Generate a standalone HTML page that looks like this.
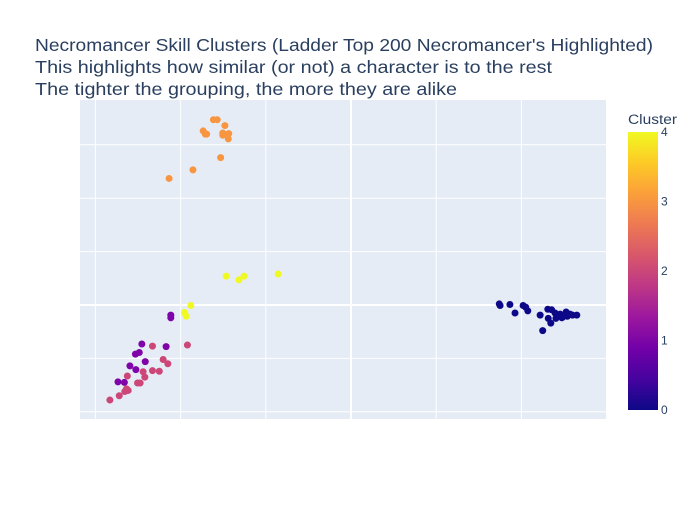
<!DOCTYPE html>
<html><head><meta charset="utf-8"><style>
body{margin:0;background:#fff;font-family:"Liberation Sans","DejaVu Sans",sans-serif}
</style></head><body>
<svg id="c" width="700" height="500" xmlns="http://www.w3.org/2000/svg">
<defs><linearGradient id="pl" x1="0" y1="1" x2="0" y2="0">
<stop offset="0" stop-color="#0d0887"/><stop offset="0.111" stop-color="#46039f"/><stop offset="0.222" stop-color="#7201a8"/><stop offset="0.333" stop-color="#9c179e"/><stop offset="0.444" stop-color="#bd3786"/><stop offset="0.556" stop-color="#d8576b"/><stop offset="0.667" stop-color="#ed7953"/><stop offset="0.778" stop-color="#fb9f3a"/><stop offset="0.889" stop-color="#fdca26"/><stop offset="1" stop-color="#f0f921"/></linearGradient></defs>
<rect x="80" y="100" width="526" height="319" fill="#e5ecf6"/>
<g id="grid"></g><g id="pts"></g>
<g fill="#2a3f5f" font-size="17.5">
<text x="35" y="51" textLength="618" lengthAdjust="spacingAndGlyphs">Necromancer Skill Clusters (Ladder Top 200 Necromancer's Highlighted)</text>
<text x="35" y="73" textLength="517" lengthAdjust="spacingAndGlyphs">This highlights how similar (or not) a character is to the rest</text>
<text x="35" y="95" textLength="422" lengthAdjust="spacingAndGlyphs">The tighter the grouping, the more they are alike</text></g>
<text x="628" y="124" font-size="13.5" fill="#2a3f5f" textLength="49" lengthAdjust="spacingAndGlyphs">Cluster</text>
<rect x="628" y="132" width="30" height="278" fill="url(#pl)"/>
<g id="cb" font-size="12" fill="#2a3f5f"></g>
</svg>
<script>
const clusters=[0,1,2,3,4];
const colors=['#0d0887','#7e03a8','#cc4778','#f89540','#f0f921'];
const xs=[
[3.48,3.50,3.73,3.85,4.04,4.10,4.15,4.44,4.50,4.62,4.69,4.71,4.63,4.79,4.84,4.91,4.98,5.05,5.08,5.14,5.20,5.30,4.81,4.95],
[-4.23,-4.23,-4.91,-4.34,-4.97,-5.06,-4.83,-5.19,-5.05,-5.47,-5.32],
[-4.66,-3.84,-4.41,-4.30,-4.66,-4.50,-4.88,-4.84,-5.25,-5.01,-4.95,-5.27,-5.23,-5.31,-5.44,-5.66],
[-3.23,-3.14,-2.96,-3.47,-3.39,-3.42,-3.01,-3.01,-2.87,-2.88,-3.06,-3.71,-4.27],
[-3.76,-3.91,-3.87,-2.93,-2.63,-2.51,-1.71]];
const ys=[
[0.02,-0.01,0.01,-0.15,-0.01,-0.04,-0.11,-0.19,-0.48,-0.08,-0.34,-0.09,-0.25,-0.15,-0.21,-0.17,-0.22,-0.13,-0.21,-0.17,-0.19,-0.19,-0.25,-0.24],
[-0.19,-0.24,-0.73,-0.78,-0.89,-0.92,-1.06,-1.14,-1.21,-1.44,-1.45],
[-0.77,-0.75,-1.02,-1.10,-1.23,-1.24,-1.25,-1.35,-1.33,-1.46,-1.46,-1.57,-1.60,-1.62,-1.70,-1.78],
[3.47,3.47,3.36,3.26,3.20,3.20,3.22,3.18,3.21,3.11,2.76,2.53,2.37],
[-0.01,-0.14,-0.21,0.54,0.47,0.54,0.58]];
const xTicks=[-6,-4,-2,0,2,4];
const yTicks=[-2,-1,0,1,2,3];
const cbTicks=[0,1,2,3,4];
const X=v=>351+v*42.6, Y=v=>305-v*53.4;
const NS='http://www.w3.org/2000/svg';
const g=document.getElementById('grid'),p=document.getElementById('pts'),cb=document.getElementById('cb');
xTicks.forEach(t=>{const l=document.createElementNS(NS,'line');
l.setAttribute('x1',X(t));l.setAttribute('x2',X(t));l.setAttribute('y1',100);l.setAttribute('y2',419);
l.setAttribute('stroke','#fff');l.setAttribute('stroke-width',t===0?2:1);


g.appendChild(l);});
yTicks.forEach(t=>{const l=document.createElementNS(NS,'line');
l.setAttribute('y1',Y(t));l.setAttribute('y2',Y(t));l.setAttribute('x1',80);l.setAttribute('x2',606);
l.setAttribute('stroke','#fff');l.setAttribute('stroke-width',t===0?2:1);


g.appendChild(l);});
clusters.forEach((c,i)=>{xs[i].forEach((x,j)=>{const e=document.createElementNS(NS,'circle');
e.setAttribute('cx',X(x));e.setAttribute('cy',Y(ys[i][j]));e.setAttribute('r',3.5);e.setAttribute('fill',colors[c]);


p.appendChild(e);});});
cbTicks.forEach(t=>{const e=document.createElementNS(NS,'text');
e.setAttribute('x',661);e.setAttribute('y',410-t*(278/4)+4);e.textContent=t;


cb.appendChild(e);});
</script>
</body></html>
